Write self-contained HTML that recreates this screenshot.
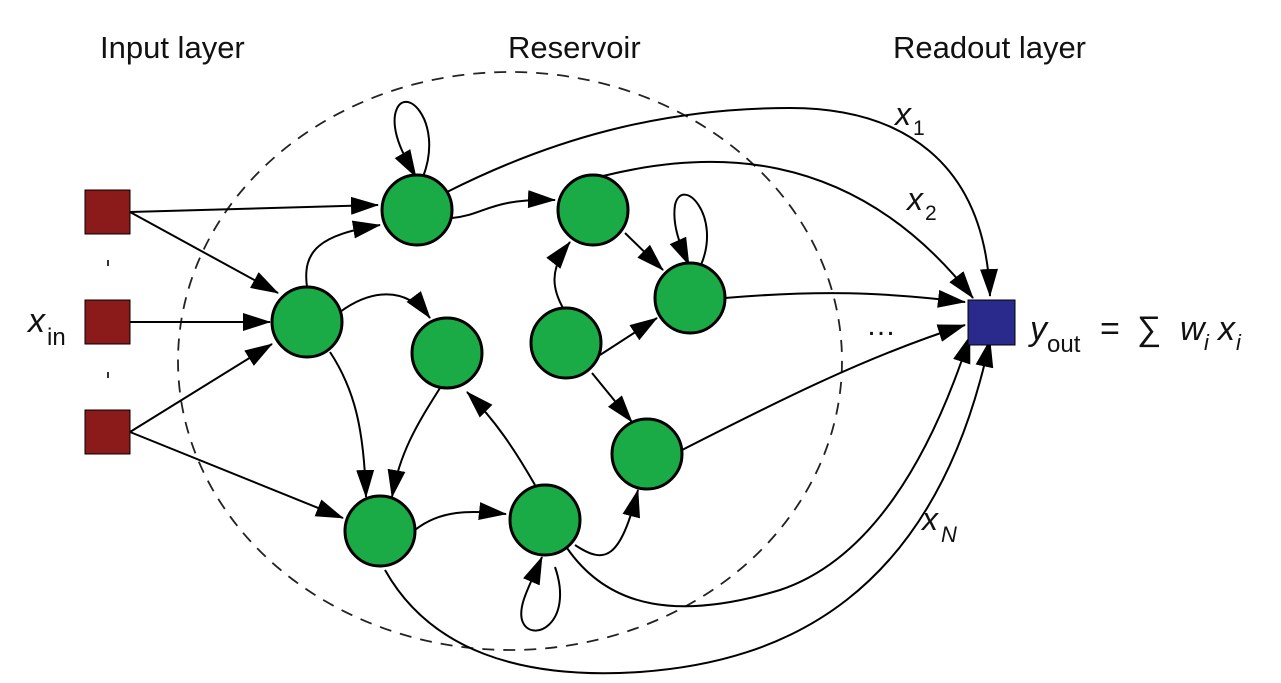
<!DOCTYPE html>
<html><head><meta charset="utf-8"><style>
html,body{margin:0;padding:0;background:#fff;}
svg{display:block;}
text{font-family:"Liberation Sans",Arial,sans-serif;fill:#111;}
</style></head><body>
<svg width="1281" height="683" viewBox="0 0 1281 683" xmlns="http://www.w3.org/2000/svg">
<defs>
<marker id="ah" markerUnits="userSpaceOnUse" markerWidth="30" markerHeight="20" refX="27" refY="9" orient="auto">
<path d="M0,0 L28,9 L0,18 Z" fill="#000"/>
</marker>
</defs>
<text x="100" y="58" font-size="31">Input layer</text>
<text x="508" y="58" font-size="31">Reservoir</text>
<text x="893" y="58" font-size="31">Readout layer</text>

<ellipse cx="510" cy="361" rx="332" ry="289" fill="none" stroke="#222" stroke-width="1.8" stroke-dasharray="12,9"/>

<g fill="none" stroke="#000" stroke-width="2">
<path d="M130,212 L378,205" marker-end="url(#ah)"/>
<path d="M130,212 L278,293" marker-end="url(#ah)"/>
<path d="M130,322 L270,322" marker-end="url(#ah)"/>
<path d="M130,432 L272,344" marker-end="url(#ah)"/>
<path d="M130,432 L343,518" marker-end="url(#ah)"/>
<path d="M307,287 C302,250 320,235 380,225" marker-end="url(#ah)"/>
<path d="M340,312 C370,290 405,285 430,318" marker-end="url(#ah)"/>
<path d="M330,352 C355,390 364,430 366,497" marker-end="url(#ah)"/>
<path d="M440,388 C420,420 400,450 392,497" marker-end="url(#ah)"/>
<path d="M415,530 C440,510 470,510 506,514" marker-end="url(#ah)"/>
<path d="M535,485 C515,450 495,420 467,392" marker-end="url(#ah)"/>
<path d="M575,545 C605,565 620,560 638,490" marker-end="url(#ah)"/>
<path d="M555,567 C575,625 530,645 522,620 C518,605 530,585 542,557" marker-end="url(#ah)"/>
<path d="M423,177 C445,120 402,80 395,115 C392,135 405,158 416,177" marker-end="url(#ah)"/>
<path d="M452,218 C485,215 490,198 555,200" marker-end="url(#ah)"/>
<path d="M625,233 L663,270" marker-end="url(#ah)"/>
<path d="M701,265 C722,215 682,175 675,205 C672,225 680,245 689,265" marker-end="url(#ah)"/>
<path d="M563,308 C553,290 548,270 570,242" marker-end="url(#ah)"/>
<path d="M600,355 L657,318" marker-end="url(#ah)"/>
<path d="M592,373 L632,422" marker-end="url(#ah)"/>
<path d="M447,192 C550,140 660,108 790,108 C900,108 985,160 990,296" marker-end="url(#ah)"/>
<path d="M603,176 C700,152 850,140 973,298" marker-end="url(#ah)"/>
<path d="M725,298 C820,290 880,292 965,302" marker-end="url(#ah)"/>
<path d="M682,450 C780,400 870,355 965,325" marker-end="url(#ah)"/>
<path d="M567,548 C610,610 680,620 780,590 C870,560 930,460 970,336" marker-end="url(#ah)"/>
<path d="M385,570 C430,650 520,680 640,672 C780,662 935,600 990,340" marker-end="url(#ah)"/>
</g>

<g fill="#1aab47" stroke="#000" stroke-width="3">
<circle cx="417" cy="210" r="35"/>
<circle cx="593" cy="210" r="35"/>
<circle cx="690" cy="298" r="35"/>
<circle cx="307" cy="322" r="35"/>
<circle cx="447" cy="353" r="35"/>
<circle cx="566" cy="343" r="35"/>
<circle cx="647" cy="454" r="35"/>
<circle cx="380" cy="531" r="35"/>
<circle cx="545" cy="520" r="35"/>
</g>

<g fill="#8b1a1a" stroke="#000" stroke-width="1">
<rect x="85" y="190" width="45" height="44"/>
<rect x="85" y="300" width="45" height="44"/>
<rect x="85" y="410" width="45" height="44"/>
</g>
<rect x="107" y="260" width="2" height="6" fill="#333"/>
<rect x="107" y="372" width="2" height="6" fill="#333"/>
<rect x="968" y="300" width="47" height="45" fill="#2a2a8c" stroke="#000" stroke-width="1"/>

<text x="28" y="332" font-size="34" font-style="italic">x</text>
<text x="47" y="345" font-size="24">in</text>
<text x="895" y="125" font-size="32" font-style="italic">x</text>
<text x="913" y="135" font-size="21">1</text>
<text x="907" y="210" font-size="32" font-style="italic">x</text>
<text x="925" y="220" font-size="21">2</text>
<text x="922" y="530" font-size="32" font-style="italic">x</text>
<text x="941" y="542" font-size="22" font-style="italic">N</text>
<text x="866" y="335" font-size="30">…</text>
<text x="1030" y="340" font-size="34" font-style="italic">y</text>
<text x="1047" y="352" font-size="24">out</text>
<text x="1100" y="340" font-size="34">=</text>
<text x="1137" y="340" font-size="34">∑</text>
<text x="1180" y="340" font-size="34" font-style="italic">w</text>
<text x="1204" y="350" font-size="22" font-style="italic">i</text>
<text x="1218" y="340" font-size="34" font-style="italic">x</text>
<text x="1236" y="350" font-size="22" font-style="italic">i</text>
</svg>
</body></html>
